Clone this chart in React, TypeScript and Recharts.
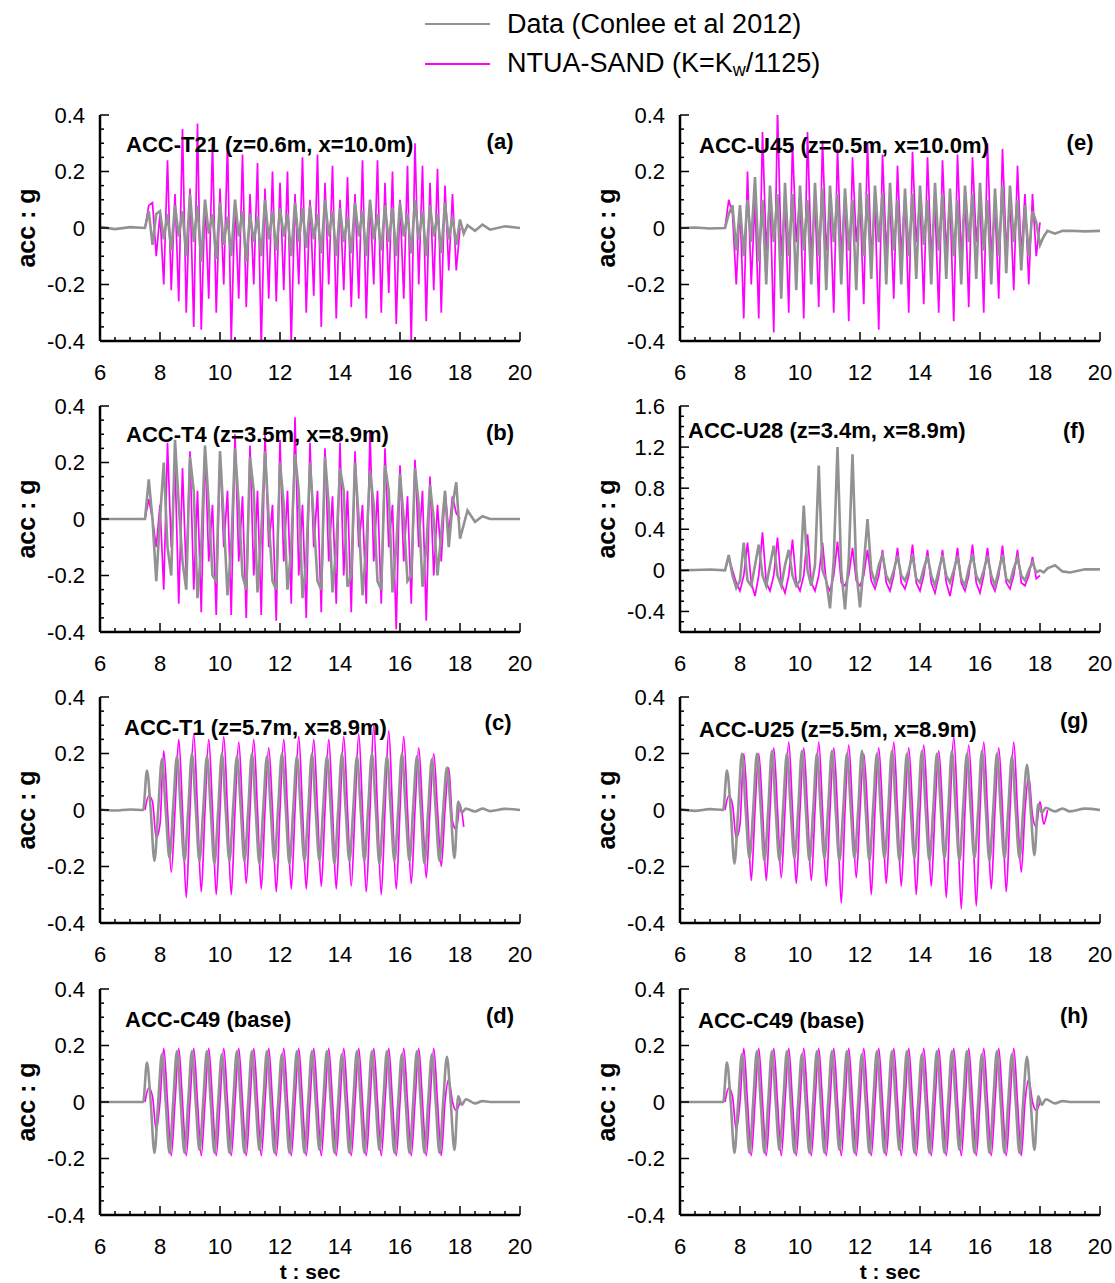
import React from "react";
import { LineChart, Line, XAxis, YAxis } from "recharts";

const _ = null;

// time grid (s): quiet lead-in, 0.125 s steps through the shaking, quiet tail
const TIME = [6, 6.5, 7, 7.5, 7.625, 7.75, 7.875,
  8, 8.125, 8.25, 8.375, 8.5, 8.625, 8.75, 8.875, 9, 9.125, 9.25, 9.375, 9.5, 9.625, 9.75, 9.875,
  10, 10.125, 10.25, 10.375, 10.5, 10.625, 10.75, 10.875, 11, 11.125, 11.25, 11.375, 11.5, 11.625, 11.75, 11.875,
  12, 12.125, 12.25, 12.375, 12.5, 12.625, 12.75, 12.875, 13, 13.125, 13.25, 13.375, 13.5, 13.625, 13.75, 13.875,
  14, 14.125, 14.25, 14.375, 14.5, 14.625, 14.75, 14.875, 15, 15.125, 15.25, 15.375, 15.5, 15.625, 15.75, 15.875,
  16, 16.125, 16.25, 16.375, 16.5, 16.625, 16.75, 16.875, 17, 17.125, 17.25, 17.375, 17.5, 17.625, 17.75, 17.875,
  18, 18.125, 18.25, 18.5, 18.75, 19, 19.5, 20];

// sample times of the recorded traces that lead the model slightly (c, d, g, h)
const TIME_LEAD = [6, 6.5, 7, 7.44, 7.565, 7.69, 7.815,
  7.94, 8.065, 8.19, 8.315, 8.44, 8.565, 8.69, 8.815, 8.94, 9.065, 9.19, 9.315, 9.44, 9.565, 9.69, 9.815,
  9.94, 10.065, 10.19, 10.315, 10.44, 10.565, 10.69, 10.815, 10.94, 11.065, 11.19, 11.315, 11.44, 11.565, 11.69, 11.815,
  11.94, 12.065, 12.19, 12.315, 12.44, 12.565, 12.69, 12.815, 12.94, 13.065, 13.19, 13.315, 13.44, 13.565, 13.69, 13.815,
  13.94, 14.065, 14.19, 14.315, 14.44, 14.565, 14.69, 14.815, 14.94, 15.065, 15.19, 15.315, 15.44, 15.565, 15.69, 15.815,
  15.94, 16.065, 16.19, 16.315, 16.44, 16.565, 16.69, 16.815, 16.94, 17.065, 17.19, 17.315, 17.44, 17.565, 17.69, 17.815,
  17.94, 18.065, 18.19, 18.5, 18.75, 19, 19.5, 20];

// (a) ACC-T21
const A_DATA = [0.004, -0.004, 0.003, 0, 0.06, -0.06, 0.05,
  0.06, -0.04, 0.05, -0.08, 0.08, -0.03, 0.06, -0.1, 0.12, -0.05, 0.08, -0.12, 0.1, -0.02, 0.05, -0.11,
  0.09, -0.06, 0.04, -0.1, 0.1, -0.03, 0.06, -0.12, 0.05, -0.05, 0.04, -0.1, 0.1, -0.04, 0.06, -0.08,
  0.07, -0.03, 0.05, -0.1, 0.09, -0.05, 0.07, -0.07, 0.08, -0.04, 0.05, -0.09, 0.1, -0.03, 0.06, -0.1,
  0.07, -0.05, 0.04, -0.09, 0.09, -0.03, 0.06, -0.1, 0.1, -0.04, 0.05, -0.08, 0.08, -0.05, 0.07, -0.1,
  0.09, -0.03, 0.05, -0.09, 0.1, -0.04, 0.06, -0.1, 0.08, -0.03, 0.05, -0.09, 0.09, -0.04, 0.04, -0.06,
  0.03, -0.02, 0.01, -0.01, 0.012, -0.006, 0.006, 0];
const A_NTUA = [_, _, _, 0, 0.08, 0.09, -0.1,
  0.05, -0.2, 0.24, -0.22, 0.12, -0.26, 0.35, -0.3, 0.14, -0.35, 0.37, -0.36, 0.1, -0.25, 0.3, -0.3,
  0.14, -0.2, 0.3, -0.4, 0.1, -0.25, 0.26, -0.28, 0.12, -0.2, 0.23, -0.42, 0.14, -0.25, 0.2, -0.26,
  0.16, -0.22, 0.2, -0.41, 0.12, -0.2, 0.25, -0.3, 0.1, -0.24, 0.26, -0.35, 0.16, -0.2, 0.22, -0.32,
  0.1, -0.22, 0.18, -0.28, 0.12, -0.25, 0.24, -0.32, 0.1, -0.2, 0.24, -0.3, 0.16, -0.23, 0.2, -0.34,
  0.1, -0.25, 0.22, -0.41, 0.3, -0.2, 0.22, -0.33, 0.16, -0.22, 0.21, -0.3, 0.15, -0.15, 0.12, -0.15,
  0, _, _, _, _, _, _, _];

// (b) ACC-T4
const B_DATA = [0, 0, 0, 0, 0.14, 0, -0.22,
  0, 0.2, -0.1, -0.2, 0.28, 0.05, -0.15, -0.25, 0.22, 0.1, -0.28, -0.1, 0.26, 0.05, -0.2, -0.22,
  0.24, 0, -0.27, -0.1, 0.25, 0.05, -0.2, -0.25, 0.22, 0.1, -0.26, -0.05, 0.24, 0, -0.22, -0.25,
  0.2, 0.05, -0.25, -0.1, 0.23, 0.1, -0.28, -0.15, 0.2, 0, -0.22, -0.25, 0.22, 0.05, -0.26, -0.1,
  0.18, 0.1, -0.24, -0.2, 0.2, 0, -0.27, -0.1, 0.17, 0.05, -0.22, -0.25, 0.19, 0.1, -0.26, -0.1,
  0.16, 0, -0.22, -0.2, 0.18, 0.05, -0.24, -0.1, 0.12, 0, -0.2, -0.05, 0.1, -0.1, 0.05, 0.13,
  -0.07, -0.02, 0.03, -0.01, 0.01, 0, 0, 0];
const B_NTUA = [_, _, _, 0, 0.07, 0, -0.1,
  0.05, -0.25, 0.27, -0.1, 0.2, -0.3, 0.18, -0.2, 0.24, -0.25, 0.1, -0.33, 0.25, -0.15, 0.05, -0.34,
  0.24, -0.1, 0.1, -0.34, 0.3, -0.15, 0.08, -0.35, 0.26, -0.2, 0.1, -0.34, 0.3, -0.1, 0.05, -0.36,
  0.28, -0.15, 0.1, -0.3, 0.36, -0.2, 0.05, -0.35, 0.27, -0.1, 0.1, -0.33, 0.25, -0.15, 0.08, -0.3,
  0.27, -0.2, 0.1, -0.33, 0.24, -0.1, 0.05, -0.3, 0.31, -0.15, 0.1, -0.3, 0.25, -0.1, 0.05, -0.39,
  0.19, -0.15, 0.08, -0.3, 0.21, -0.1, 0.1, -0.36, 0.15, -0.2, 0.05, -0.15, 0.1, -0.05, 0.08, 0.02,
  0, _, _, _, _, _, _, _];

// (c) ACC-T1  (data on TIME_LEAD)
const C_DATA = [0.002, -0.002, 0.002, 0, 0.14, 0, -0.18,
  0, 0.18, 0, -0.17, 0.01, 0.19, 0, -0.18, 0, 0.2, 0.01, -0.18, 0, 0.19, 0, -0.19,
  0, 0.2, 0, -0.18, 0.01, 0.19, 0.01, -0.18, 0, 0.2, 0, -0.19, 0, 0.19, 0, -0.18,
  0.01, 0.2, 0.01, -0.19, 0, 0.19, 0, -0.18, 0, 0.2, 0, -0.18, 0.01, 0.19, 0.01, -0.19,
  0, 0.2, 0, -0.18, 0, 0.19, 0, -0.18, 0.01, 0.2, 0.01, -0.19, 0, 0.19, 0, -0.18,
  0, 0.2, 0, -0.18, 0.01, 0.19, 0.01, -0.19, 0, 0.18, 0, -0.18, 0, 0.15, 0, -0.17,
  0.03, -0.01, 0.005, -0.005, 0.005, -0.004, 0.004, 0];
const C_NTUA = [_, _, _, 0, 0.05, 0.03, -0.1,
  -0.05, 0.21, 0, -0.22, 0, 0.25, 0, -0.31, 0, 0.27, 0, -0.29, 0, 0.25, 0, -0.3,
  0, 0.26, 0, -0.3, 0, 0.24, 0, -0.26, 0, 0.25, 0, -0.28, 0, 0.22, 0, -0.29,
  0, 0.25, 0, -0.28, 0, 0.26, 0, -0.28, 0, 0.25, 0, -0.27, 0, 0.25, 0, -0.28,
  0, 0.26, 0, -0.27, 0, 0.27, 0, -0.29, 0, 0.3, 0, -0.3, 0, 0.28, 0, -0.28,
  0, 0.26, 0, -0.26, 0, 0.22, 0, -0.24, 0, 0.2, 0, -0.2, 0, 0.15, -0.04, -0.07,
  0.02, -0.06, _, _, _, _, _, _];

// (d), (h) ACC-C49 base  (data on TIME_LEAD)
const D_DATA = [0, 0, 0, 0, 0.14, 0, -0.18,
  0, 0.17, 0, -0.18, 0, 0.18, 0, -0.18, 0, 0.18, 0, -0.17, 0, 0.18, 0, -0.18,
  0, 0.17, 0, -0.18, 0, 0.18, 0, -0.18, 0, 0.18, 0, -0.17, 0, 0.18, 0, -0.18,
  0, 0.17, 0, -0.18, 0, 0.18, 0, -0.18, 0, 0.18, 0, -0.17, 0, 0.18, 0, -0.18,
  0, 0.17, 0, -0.18, 0, 0.18, 0, -0.18, 0, 0.18, 0, -0.17, 0, 0.18, 0, -0.18,
  0, 0.17, 0, -0.18, 0, 0.18, 0, -0.18, 0, 0.17, 0, -0.18, 0, 0.16, 0, -0.17,
  0.02, -0.01, 0.01, -0.005, 0.003, 0, 0, 0];
const D_NTUA = [_, _, _, 0, 0.05, 0.02, -0.1,
  0, 0.19, 0, -0.19, 0, 0.19, 0, -0.19, 0, 0.19, 0, -0.19, 0, 0.19, 0, -0.19,
  0, 0.19, 0, -0.19, 0, 0.19, 0, -0.19, 0, 0.19, 0, -0.19, 0, 0.19, 0, -0.19,
  0, 0.19, 0, -0.19, 0, 0.19, 0, -0.19, 0, 0.19, 0, -0.19, 0, 0.19, 0, -0.19,
  0, 0.19, 0, -0.19, 0, 0.19, 0, -0.19, 0, 0.19, 0, -0.19, 0, 0.19, 0, -0.19,
  0, 0.19, 0, -0.19, 0, 0.19, 0, -0.19, 0, 0.19, 0, -0.19, 0, 0.08, 0, -0.03,
  0, _, _, _, _, _, _, _];

// (e) ACC-U45
const E_DATA = [0, 0.002, -0.002, 0, 0.05, 0.08, -0.08,
  0.08, -0.1, 0.1, -0.05, 0.18, -0.12, 0.1, -0.2, 0.15, -0.05, 0.12, -0.25, 0.16, -0.1, 0.12, -0.22,
  0.15, -0.08, 0.1, -0.2, 0.16, -0.1, 0.14, -0.22, 0.15, -0.05, 0.12, -0.2, 0.14, -0.08, 0.1, -0.22,
  0.16, -0.1, 0.12, -0.18, 0.15, -0.05, 0.12, -0.2, 0.16, -0.08, 0.1, -0.2, 0.14, -0.1, 0.12, -0.18,
  0.15, -0.06, 0.1, -0.2, 0.16, -0.08, 0.12, -0.18, 0.14, -0.1, 0.1, -0.2, 0.15, -0.05, 0.12, -0.18,
  0.16, -0.08, 0.1, -0.2, 0.14, -0.1, 0.15, -0.16, 0.15, -0.05, 0.1, -0.15, 0.08, -0.1, 0.06, 0.02,
  -0.06, -0.03, -0.01, -0.02, -0.01, -0.01, -0.012, -0.01];
const E_NTUA = [_, _, _, 0, 0.1, 0.05, -0.2,
  0.08, -0.32, 0.2, -0.2, 0.1, -0.32, 0.34, -0.08, 0.12, -0.37, 0.42, -0.1, 0.1, -0.3, 0.3, -0.05,
  0.12, -0.32, 0.34, -0.1, 0.1, -0.28, 0.31, -0.08, 0.08, -0.3, 0.28, -0.1, 0.12, -0.33, 0.25, -0.05,
  0.1, -0.27, 0.3, -0.1, 0.08, -0.36, 0.26, -0.08, 0.1, -0.25, 0.22, -0.1, 0.12, -0.3, 0.27, -0.05,
  0.1, -0.27, 0.25, -0.1, 0.08, -0.3, 0.24, -0.08, 0.1, -0.33, 0.26, -0.1, 0.12, -0.28, 0.25, -0.05,
  0.1, -0.3, 0.3, -0.1, 0.08, -0.25, 0.28, -0.08, 0.1, -0.22, 0.22, -0.1, 0.12, -0.2, 0.12, -0.1,
  0.02, _, _, _, _, _, _, _];

// (f) ACC-U28
const F_DATA = [0, 0.003, 0.008, 0, 0.15, -0.05, -0.17,
  -0.1, 0.27, -0.1, -0.15, 0.05, 0.25, -0.05, -0.15, 0.05, 0.24, -0.05, -0.15, 0.05, 0.2, -0.05, -0.15,
  -0.1, 0.63, 0, -0.15, 0.05, 1.02, 0, -0.1, -0.37, 0.1, 1.2, 0, -0.38, 0.1, 1.13, 0,
  -0.36, 0.05, 0.5, 0, -0.12, 0.05, 0.15, -0.05, -0.12, 0, 0.14, -0.05, -0.1, 0, 0.15, -0.08,
  -0.12, 0.02, 0.14, -0.05, -0.15, 0, 0.15, -0.05, -0.12, 0, 0.14, -0.08, -0.15, 0.02, 0.15, -0.05,
  -0.12, 0, 0.14, -0.05, -0.15, 0, 0.15, -0.08, -0.12, 0.02, 0.12, -0.05, -0.1, 0, 0.08, -0.02,
  0, -0.02, 0.02, 0.05, -0.01, -0.02, 0.01, 0.01];
const F_NTUA = [_, _, _, 0, 0.12, 0, -0.12,
  -0.2, -0.05, 0.27, -0.12, -0.25, -0.05, 0.37, -0.12, -0.2, -0.05, 0.32, -0.12, -0.22, -0.05, 0.3, -0.12,
  -0.2, -0.05, 0.35, -0.12, -0.2, -0.05, 0.27, -0.12, -0.2, -0.05, 0.28, -0.12, -0.15, -0.05, 0.22, -0.1,
  -0.15, -0.05, 0.2, -0.1, -0.18, -0.05, 0.2, -0.12, -0.2, -0.05, 0.22, -0.12, -0.18, -0.05, 0.25, -0.12,
  -0.2, -0.05, 0.2, -0.12, -0.22, -0.05, 0.2, -0.12, -0.25, -0.05, 0.22, -0.12, -0.2, -0.05, 0.25, -0.12,
  -0.22, -0.05, 0.22, -0.12, -0.2, -0.05, 0.24, -0.12, -0.18, -0.05, 0.2, -0.12, -0.15, -0.05, 0.13, -0.08,
  -0.05, _, _, _, _, _, _, _];

// (g) ACC-U25  (data on TIME_LEAD)
const G_DATA = [0.003, -0.003, 0.003, 0, 0.14, 0, -0.19,
  0, 0.2, 0, -0.17, 0, 0.2, 0.01, -0.18, 0, 0.21, 0, -0.18, 0.01, 0.2, 0, -0.17,
  0, 0.21, 0.01, -0.18, 0, 0.2, 0, -0.17, 0.01, 0.21, 0, -0.18, 0, 0.2, 0.01, -0.17,
  0, 0.21, 0, -0.18, 0.01, 0.2, 0, -0.17, 0, 0.21, 0.01, -0.18, 0, 0.2, 0, -0.17,
  0.01, 0.21, 0, -0.18, 0, 0.2, 0.01, -0.17, 0, 0.21, 0, -0.18, 0.01, 0.2, 0, -0.17,
  0, 0.21, 0.01, -0.18, 0, 0.2, 0, -0.17, 0, 0.19, 0, -0.17, 0, 0.16, 0, -0.16,
  0.02, -0.01, 0.008, -0.005, 0.005, -0.005, 0.005, 0];
const G_NTUA = [_, _, _, 0, 0.05, 0.02, -0.1,
  -0.05, 0.2, 0, -0.25, 0, 0.2, 0, -0.25, 0, 0.22, 0, -0.24, 0, 0.24, 0, -0.26,
  0, 0.22, 0, -0.25, 0, 0.24, 0, -0.27, 0, 0.22, 0, -0.33, 0, 0.23, 0, -0.24,
  0, 0.2, 0, -0.3, 0, 0.22, 0, -0.26, 0, 0.24, 0, -0.27, 0, 0.22, 0, -0.3,
  0, 0.23, 0, -0.27, 0, 0.21, 0, -0.31, 0, 0.26, 0, -0.35, 0, 0.23, 0, -0.34,
  0, 0.24, 0, -0.28, 0, 0.22, 0, -0.29, 0, 0.24, 0, -0.22, 0, 0.12, -0.02, -0.06,
  0.03, -0.05, 0, _, _, _, _, _];

const X_TICKS = [6, 6.5, 7, 7.5, 8, 8.5, 9, 9.5, 10, 10.5, 11, 11.5, 12, 12.5, 13, 13.5, 14, 14.5, 15, 15.5, 16, 16.5, 17, 17.5, 18, 18.5, 19, 19.5, 20];
const X_LABELS = [6, 8, 10, 12, 14, 16, 18, 20];
const ACC_TICKS = [-0.4, -0.35, -0.3, -0.25, -0.2, -0.15, -0.1, -0.05, 0, 0.05, 0.1, 0.15, 0.2, 0.25, 0.3, 0.35, 0.4];
const ACC_LABELS = [-0.4, -0.2, 0, 0.2, 0.4];
const U28_TICKS = [-0.6, -0.5, -0.4, -0.3, -0.2, -0.1, 0, 0.1, 0.2, 0.3, 0.4, 0.5, 0.6, 0.7, 0.8, 0.9, 1, 1.1, 1.2, 1.3, 1.4, 1.5, 1.6];
const U28_LABELS = [-0.4, 0, 0.4, 0.8, 1.2, 1.6];

const DATA_NAME = "Data (Conlee et al 2012)";

const PANELS = [
  { id: "a", title: "ACC-T21 (z=0.6m, x=10.0m)", data: A_DATA, dataTime: TIME, ntua: A_NTUA, curve: "linear", domain: [-0.4, 0.4], ticks: ACC_TICKS, labels: ACC_LABELS, col: 0, row: 0 },
  { id: "b", title: "ACC-T4 (z=3.5m, x=8.9m)", data: B_DATA, dataTime: TIME, ntua: B_NTUA, curve: "linear", domain: [-0.4, 0.4], ticks: ACC_TICKS, labels: ACC_LABELS, col: 0, row: 1 },
  { id: "c", title: "ACC-T1 (z=5.7m, x=8.9m)", data: C_DATA, dataTime: TIME_LEAD, ntua: C_NTUA, curve: "monotone", domain: [-0.4, 0.4], ticks: ACC_TICKS, labels: ACC_LABELS, col: 0, row: 2 },
  { id: "d", title: "ACC-C49 (base)", data: D_DATA, dataTime: TIME_LEAD, ntua: D_NTUA, curve: "monotone", domain: [-0.4, 0.4], ticks: ACC_TICKS, labels: ACC_LABELS, col: 0, row: 3 },
  { id: "e", title: "ACC-U45 (z=0.5m, x=10.0m)", data: E_DATA, dataTime: TIME, ntua: E_NTUA, curve: "linear", domain: [-0.4, 0.4], ticks: ACC_TICKS, labels: ACC_LABELS, col: 1, row: 0 },
  { id: "f", title: "ACC-U28 (z=3.4m, x=8.9m)", data: F_DATA, dataTime: TIME, ntua: F_NTUA, curve: "linear", domain: [-0.6, 1.6], ticks: U28_TICKS, labels: U28_LABELS, col: 1, row: 1 },
  { id: "g", title: "ACC-U25 (z=5.5m, x=8.9m)", data: G_DATA, dataTime: TIME_LEAD, ntua: G_NTUA, curve: "monotone", domain: [-0.4, 0.4], ticks: ACC_TICKS, labels: ACC_LABELS, col: 1, row: 2 },
  { id: "h", title: "ACC-C49 (base)", data: D_DATA, dataTime: TIME_LEAD, ntua: D_NTUA, curve: "monotone", domain: [-0.4, 0.4], ticks: ACC_TICKS, labels: ACC_LABELS, col: 1, row: 3 },
];

// title / letter positions (page px)
const TITLE_POS = {
  a: [126, 144, 500, 141], b: [126, 434, 500, 432], c: [124, 727, 498, 722], d: [125, 1019, 500, 1015],
  e: [699, 145, 1080, 142], f: [688, 430, 1074, 430], g: [699, 729, 1074, 720], h: [698, 1020, 1074, 1015],
};

const FONT = "'Liberation Sans', Arial, Helvetica, sans-serif";
const GRAY = "#929292";
const MAGENTA = "#ff00ff";
const COL_X = [100, 680];
const ROW_Y = [115, 406, 697, 989];
const PLOT_W = 420;
const PLOT_H = 226;
const AXIS_W = 90;
const AXIS_H = 50;
const PAD_T = 12;
const PAD_R = 12;
const FRAME = { stroke: "#000", strokeWidth: 2.5 };

function XTick(props: any) {
  const { x, payload } = props;
  const v = payload.value;
  const major = X_LABELS.includes(v);
  const yb = PAD_T + PLOT_H;
  return (
    <g>
      <line x1={x} x2={x} y1={yb} y2={yb - (major ? 9 : 4)} stroke="#000" strokeWidth={1.5} />
      {major && (
        <text x={x} y={yb + 31} textAnchor="middle" dominantBaseline="central" fontSize={22} fontFamily={FONT} fill="#000">
          {v}
        </text>
      )}
    </g>
  );
}

function YTick(props: any) {
  const { y, payload, labels } = props;
  const v = payload.value;
  const major = labels.includes(v);
  return (
    <g>
      <line x1={AXIS_W} x2={AXIS_W + (major ? 9 : 4)} y1={y} y2={y} stroke="#000" strokeWidth={1.5} />
      {major && (
        <text x={AXIS_W - 15} y={y} textAnchor="end" dominantBaseline="central" fontSize={22} fontFamily={FONT} fill="#000">
          {v}
        </text>
      )}
    </g>
  );
}

function Panel({ p }: { p: any }) {
  const grayRows = p.dataTime.map((t: number, i: number) => ({ t, v: p.data[i] }));
  const ntuaRows = TIME.map((t, i) => ({ t, v: p.ntua[i] }));
  return (
    <div style={{ position: "absolute", left: COL_X[p.col] - AXIS_W, top: ROW_Y[p.row] - PAD_T }}>
      <LineChart
        width={AXIS_W + PLOT_W + PAD_R}
        height={PAD_T + PLOT_H + AXIS_H}
        margin={{ top: PAD_T, right: PAD_R, bottom: 0, left: 0 }}
      >
        <XAxis
          dataKey="t"
          type="number"
          domain={[6, 20]}
          ticks={X_TICKS}
          interval={0}
          allowDataOverflow
          height={AXIS_H}
          tickLine={false}
          axisLine={FRAME}
          tick={(tp: any) => <XTick {...tp} />}
        />
        <XAxis xAxisId="top" orientation="top" dataKey="t" type="number" domain={[6, 20]} height={0} tick={false} tickLine={false} axisLine={FRAME} />
        <YAxis
          type="number"
          domain={p.domain}
          ticks={p.ticks}
          interval={0}
          allowDataOverflow
          width={AXIS_W}
          tickLine={false}
          axisLine={FRAME}
          tick={(tp: any) => <YTick {...tp} labels={p.labels} />}
        />
        <YAxis yAxisId="right" orientation="right" type="number" domain={p.domain} width={0} tick={false} tickLine={false} axisLine={FRAME} />
        <Line data={ntuaRows} type={p.curve} dataKey="v" name="NTUA-SAND" stroke={MAGENTA} strokeWidth={1.7} dot={false} isAnimationActive={false} />
        <Line data={grayRows} type={p.curve} dataKey="v" name={DATA_NAME} stroke={GRAY} strokeWidth={2.6} dot={false} isAnimationActive={false} />
      </LineChart>
    </div>
  );
}

export default function App() {
  return (
    <div style={{ position: "absolute", left: 0, top: 0, width: 1115, height: 1283, background: "#fff" }}>
      {PANELS.map((p) => (
        <Panel key={p.id} p={p} />
      ))}
      <svg width={1115} height={1283} style={{ position: "absolute", left: 0, top: 0, pointerEvents: "none" }}>
        {/* legend */}
        <line x1={425} x2={490} y1={24} y2={24} stroke={GRAY} strokeWidth={2} />
        <text x={507} y={24} dominantBaseline="central" fontSize={27} fontFamily={FONT} fill="#000">{DATA_NAME}</text>
        <line x1={425} x2={490} y1={64} y2={64} stroke={MAGENTA} strokeWidth={2} />
        <text x={507} y={63} dominantBaseline="central" fontSize={27} fontFamily={FONT} fill="#000">
          NTUA-SAND (K=K<tspan fontSize={18} dy={7}>w</tspan><tspan dy={-7}>/1125)</tspan>
        </text>

        {PANELS.map((p) => {
          const [tx, ty, lx, ly] = TITLE_POS[p.id];
          const ax = p.col ? 606 : 26;
          const ay = ROW_Y[p.row] + PLOT_H / 2;
          return (
            <g key={p.id}>
              <text x={tx} y={ty} dominantBaseline="central" fontSize={22} fontWeight="bold" fontFamily={FONT} fill="#000">{p.title}</text>
              <text x={lx} y={ly} textAnchor="middle" dominantBaseline="central" fontSize={22} fontWeight="bold" fontFamily={FONT} fill="#000">({p.id})</text>
              <text x={ax} y={ay} transform={`rotate(-90 ${ax} ${ay})`} textAnchor="middle" dominantBaseline="central" fontSize={25} fontWeight="bold" fontFamily={FONT} fill="#000">acc : g</text>
            </g>
          );
        })}
        <text x={310} y={1279} textAnchor="middle" fontSize={21} fontWeight="bold" fontFamily={FONT} fill="#000">t : sec</text>
        <text x={890} y={1279} textAnchor="middle" fontSize={21} fontWeight="bold" fontFamily={FONT} fill="#000">t : sec</text>
      </svg>
    </div>
  );
}
